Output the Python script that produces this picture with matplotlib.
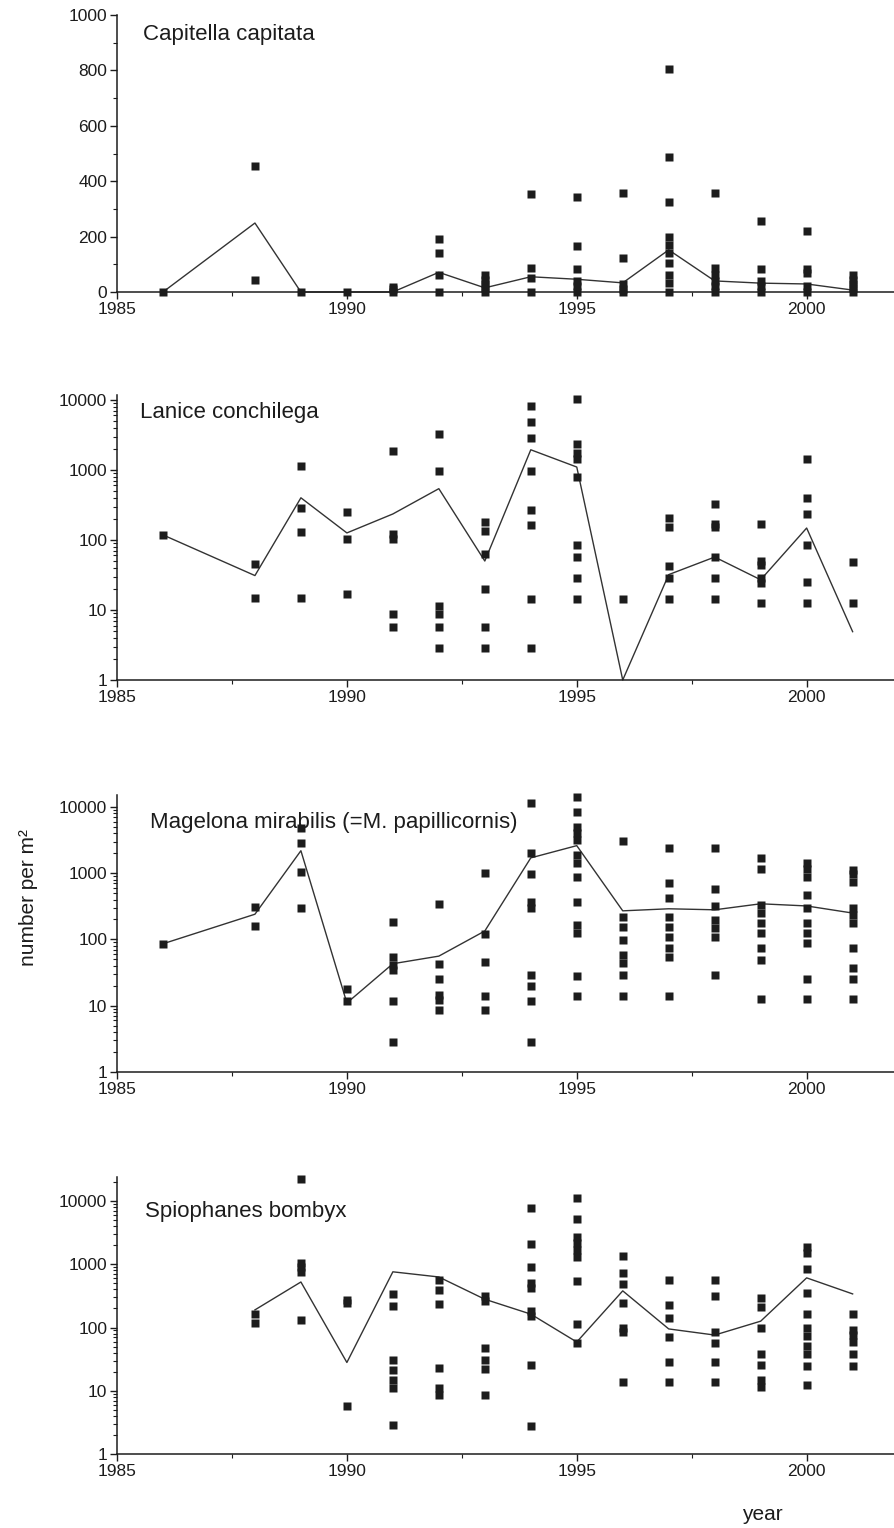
import numpy as np
import matplotlib
matplotlib.use("Agg")
import matplotlib.pyplot as plt
from matplotlib.ticker import FixedLocator, MultipleLocator, LogLocator, NullFormatter

plt.rcParams['font.family'] = ['Liberation Sans', 'DejaVu Sans']

years = [1986, 1988, 1989, 1990, 1991, 1992, 1993, 1994, 1995, 1996, 1997, 1998, 1999, 2000, 2001]

# single samples per year
capitella_pts = [
    [0], [455, 45], [0], [0], [0, 10, 18], [191, 141, 61, 0], [0, 15, 30, 45, 60],
    [353, 86, 50, 0], [344, 167, 82, 40, 20, 0], [357, 123, 30, 10, 0],
    [805, 487, 326, 200, 170, 140, 103, 61, 33, 0], [357, 85, 60, 40, 20, 0],
    [257, 83, 40, 20, 0], [220, 83, 68, 20, 0], [60, 45, 30, 15, 0]]
capitella_mean = [0, 249, 0, 0, 0, 71, 15, 55, 46, 33, 152, 40, 32, 29, 7]

lanice_pts = [
    [118], [45, 15], [1140, 290, 130, 15], [250, 103, 17], [1860, 122, 103, 8.7, 5.7],
    [3250, 970, 11.4, 8.7, 5.7, 2.9], [180, 135, 62, 20, 5.7, 2.9],
    [8200, 4900, 2870, 970, 270, 165, 14.4, 2.9],
    [10300, 2340, 1740, 1440, 800, 85, 57, 29, 14.4], [14.4],
    [205, 155, 43, 29, 14.4], [325, 170, 155, 57, 29, 14.4],
    [170, 50, 44, 29, 24, 12.6], [1440, 400, 235, 85, 25, 12.6], [49, 12.6]]
lanice_mean = [118, 31, 400, 126, 235, 540, 50, 1940, 1100, 1, 32, 57, 27, 148, 4.9]

magelona_pts = [
    [86], [310, 160], [4800, 2860, 1050, 300], [17.9, 11.8],
    [183, 55, 41, 34, 11.8, 2.8], [345, 43, 25, 14.5, 12.3, 8.7],
    [1000, 120, 46, 14, 8.7],
    [11500, 2000, 980, 370, 300, 29, 20, 11.8, 2.8],
    [14000, 8400, 5000, 4000, 3200, 1900, 1400, 880, 370, 165, 125, 28, 14],
    [3080, 220, 155, 98, 59, 44, 29, 14],
    [2400, 710, 425, 220, 155, 110, 75, 55, 14],
    [2400, 580, 320, 195, 150, 110, 29],
    [1700, 1160, 330, 250, 180, 125, 75, 49, 12.6],
    [1400, 1150, 880, 470, 300, 180, 125, 89, 25, 12.6],
    [1120, 960, 740, 300, 230, 180, 75, 37, 25, 12.6]]
magelona_mean = [86, 240, 2180, 11, 43, 56, 134, 1700, 2600, 270, 290, 280, 345, 320, 250]

spio_years = years[1:]
spio_pts = [
    [163, 118], [22400, 1050, 900, 750, 132], [270, 240, 5.7],
    [340, 220, 31, 21, 15, 11, 2.9], [560, 390, 235, 23, 11, 8.6],
    [320, 265, 48, 31, 22, 8.6],
    [7700, 2100, 910, 500, 420, 180, 150, 25.5, 2.8],
    [11000, 5200, 2700, 2200, 1700, 1300, 545, 114, 57],
    [1350, 725, 490, 245, 100, 85, 13.8],
    [560, 228, 140, 71, 29, 13.8], [560, 315, 85, 57, 29, 13.8],
    [295, 210, 98, 38, 25.5, 15, 11.5],
    [1860, 1500, 840, 350, 165, 100, 74, 51, 38, 25, 12.4],
    [163, 91, 75, 60, 38, 25]]
spio_mean = [190, 525, 28, 760, 630, 280, 163, 59, 380, 95, 76, 126, 610, 340]

ink = '#1c1c1c'
W, H = 894.0, 1528.0

fig = plt.figure(figsize=(8.94, 15.28), dpi=100)


def make_axes(top_px, bottom_px):
    ax = fig.add_axes([117 / W, 1 - bottom_px / H, 1 - 117 / W, (bottom_px - top_px) / H])
    for s in ['top', 'right']:
        ax.spines[s].set_visible(False)
    for s in ['left', 'bottom']:
        ax.spines[s].set_linewidth(1.1)
        ax.spines[s].set_color(ink)
    ax.set_xlim(1985, 2001.9)
    ax.xaxis.set_major_locator(FixedLocator([1985, 1990, 1995, 2000]))
    ax.xaxis.set_minor_locator(FixedLocator([1987.5, 1992.5, 1997.5]))
    ax.tick_params(which='major', length=5, width=1.0, colors=ink, labelsize=12.5, pad=2)
    ax.tick_params(which='minor', length=3, width=0.8, colors=ink)
    return ax


def draw(ax, xs, pts, mean):
    for x, vals in zip(xs, pts):
        ax.plot([x] * len(vals), vals, 's', ms=5.3, color=ink, mec='none', clip_on=False, zorder=3)
    ax.plot(xs, mean, '-', lw=1.0, color='#333333', clip_on=False, zorder=2)


def log_axis(ax, top):
    ax.set_yscale('log')
    ax.set_ylim(1, top)
    ax.yaxis.set_major_locator(FixedLocator([1, 10, 100, 1000, 10000]))
    ax.set_yticklabels(['1', '10', '100', '1000', '10000'])
    ax.yaxis.set_minor_locator(LogLocator(base=10, subs=np.arange(2, 10)))
    ax.yaxis.set_minor_formatter(NullFormatter())


# Capitella, linear scale
ax1 = make_axes(15, 292)
draw(ax1, years, capitella_pts, capitella_mean)
ax1.set_ylim(0, 1000)
ax1.yaxis.set_major_locator(MultipleLocator(200))
ax1.yaxis.set_minor_locator(MultipleLocator(100))
ax1.text(0.033, 0.931, 'Capitella capitata', transform=ax1.transAxes, fontsize=16,
         va='center', color=ink)

ax2 = make_axes(395, 680)
draw(ax2, years, lanice_pts, lanice_mean)
log_axis(ax2, 11750)
ax2.text(0.030, 0.940, 'Lanice conchilega', transform=ax2.transAxes, fontsize=16,
         va='center', color=ink)

ax3 = make_axes(795, 1072)
draw(ax3, years, magelona_pts, magelona_mean)
log_axis(ax3, 15100)
ax3.text(0.042, 0.899, 'Magelona mirabilis (=M. papillicornis)', transform=ax3.transAxes,
         fontsize=16, va='center', color=ink, zorder=1)

ax4 = make_axes(1177, 1454)
draw(ax4, spio_years, spio_pts, spio_mean)
log_axis(ax4, 24000)
ax4.text(0.036, 0.877, 'Spiophanes bombyx', transform=ax4.transAxes, fontsize=16,
         va='center', color=ink)

fig.text(28 / W, 1 - 898 / H, 'number per m²', rotation=90, fontsize=15,
         ha='center', va='center', color=ink)
fig.text(762 / W, 1 - 1515 / H, 'year', fontsize=15, ha='center', va='center', color=ink)

fig.savefig('out.png', dpi=100, facecolor='white')
